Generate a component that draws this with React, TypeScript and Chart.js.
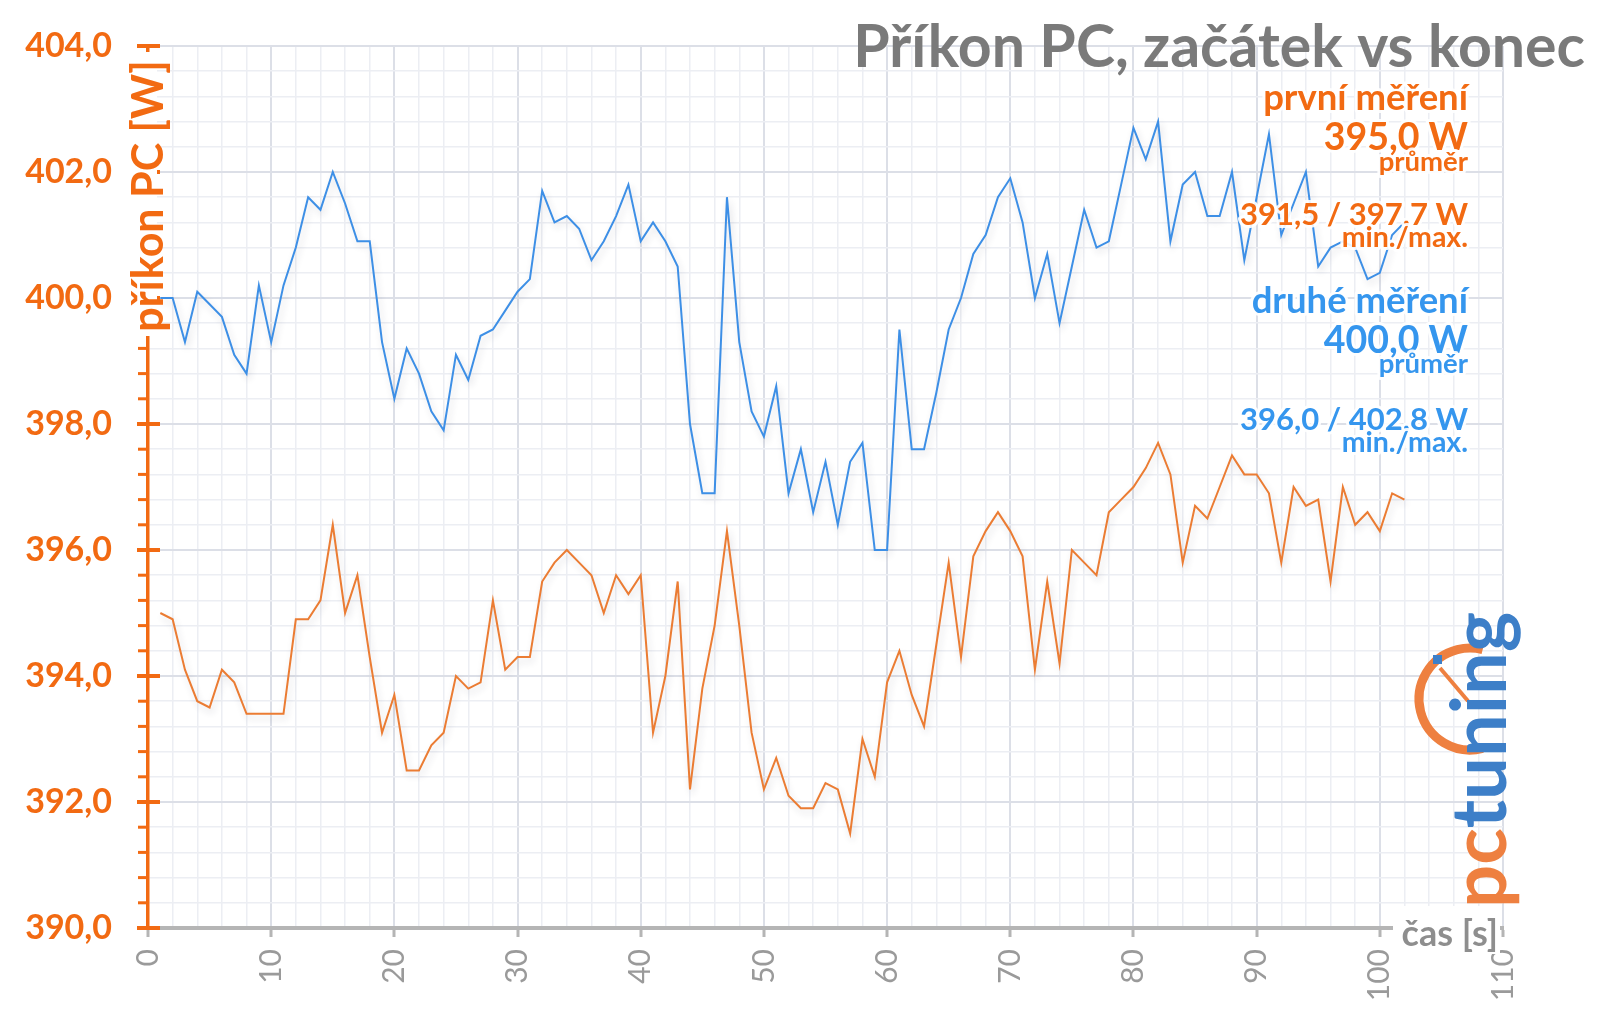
import React, { useEffect, useRef } from 'react';
import { Chart, registerables } from 'chart.js';

Chart.register(...registerables);

// time axis (seconds) for each sample
const timeSeconds: number[] = Array.from({ length: 102 }, (_, i) => i + 1);

// první měření (orange)
const firstRunW: number[] = [
  395.0, 394.9, 394.1, 393.6, 393.5, 394.1, 393.9, 393.4, 393.4, 393.4,
  393.4, 394.9, 394.9, 395.2, 396.4, 395.0, 395.6, 394.3, 393.1, 393.7,
  392.5, 392.5, 392.9, 393.1, 394.0, 393.8, 393.9, 395.2, 394.1, 394.3,
  394.3, 395.5, 395.8, 396.0, 395.8, 395.6, 395.0, 395.6, 395.3, 395.6,
  393.1, 394.0, 395.5, 392.2, 393.8, 394.8, 396.3, 394.8, 393.1, 392.2,
  392.7, 392.1, 391.9, 391.9, 392.3, 392.2, 391.5, 393.0, 392.4, 393.9,
  394.4, 393.7, 393.2, 394.5, 395.8, 394.3, 395.9, 396.3, 396.6, 396.3,
  395.9, 394.1, 395.5, 394.2, 396.0, 395.8, 395.6, 396.6, 396.8, 397.0,
  397.3, 397.7, 397.2, 395.8, 396.7, 396.5, 397.0, 397.5, 397.2, 397.2,
  396.9, 395.8, 397.0, 396.7, 396.8, 395.5, 397.0, 396.4, 396.6, 396.3,
  396.9, 396.8,
];

// druhé měření (blue)
const secondRunW: number[] = [
  400.0, 400.0, 399.3, 400.1, 399.9, 399.7, 399.1, 398.8, 400.2, 399.3,
  400.2, 400.8, 401.6, 401.4, 402.0, 401.5, 400.9, 400.9, 399.3, 398.4,
  399.2, 398.8, 398.2, 397.9, 399.1, 398.7, 399.4, 399.5, 399.8, 400.1,
  400.3, 401.7, 401.2, 401.3, 401.1, 400.6, 400.9, 401.3, 401.8, 400.9,
  401.2, 400.9, 400.5, 398.0, 396.9, 396.9, 401.6, 399.3, 398.2, 397.8,
  398.6, 396.9, 397.6, 396.6, 397.4, 396.4, 397.4, 397.7, 396.0, 396.0,
  399.5, 397.6, 397.6, 398.5, 399.5, 400.0, 400.7, 401.0, 401.6, 401.9,
  401.2, 400.0, 400.7, 399.6, 400.5, 401.4, 400.8, 400.9, 401.8, 402.7,
  402.2, 402.8, 400.9, 401.8, 402.0, 401.3, 401.3, 402.0, 400.6, 401.6,
  402.6, 401.0, 401.5, 402.0, 400.5, 400.8, 400.9, 400.8, 400.3, 400.4,
  401.0, 401.2,
];

const chartTitle = 'Příkon PC, začátek vs konec';
const yAxisTitle = 'příkon PC [W]';
const xAxisTitle = 'čas [s]';
const firstSummary = ['první měření', '395,0 W', 'průměr', '391,5 / 397,7 W', 'min./max.'];
const secondSummary = ['druhé měření', '400,0 W', 'průměr', '396,0 / 402,8 W', 'min./max.'];
const logoParts = ['pc', 'tuning'];

const ORANGE_TEXT = '#F26A12';
const BLUE_TEXT = '#3596EE';
const ORANGE_LINE = '#EB7C33';
const BLUE_LINE = '#3D8FE6';
const GREY_TEXT = '#7a7a7a';
const FONT = 'Lato, "Open Sans", sans-serif';

const isMult = (v: number, m: number) => Math.abs(v / m - Math.round(v / m)) < 1e-6;

function drawText(ctx: CanvasRenderingContext2D, s: string, x: number, y: number, font: string, color: string, align: CanvasTextAlign = 'right', glow = true) {
  ctx.save();
  ctx.font = font;
  ctx.textAlign = align;
  ctx.textBaseline = 'alphabetic';
  if (glow) {
    ctx.lineJoin = 'round';
    ctx.strokeStyle = 'rgba(255,255,255,0.9)';
    ctx.lineWidth = 6;
    ctx.strokeText(s, x, y);
  }
  ctx.fillStyle = color;
  ctx.fillText(s, x, y);
  ctx.restore();
}

const decorPlugin = {
  id: 'decor',
  beforeDatasetsDraw(chart: any) {
    const ctx = chart.ctx;
    ctx.save();
    ctx.shadowColor = 'rgba(40,40,60,0.16)';
    ctx.shadowBlur = 7;
    ctx.shadowOffsetX = 2;
    ctx.shadowOffsetY = 4;
  },
  afterDatasetsDraw(chart: any) {
    chart.ctx.restore();
  },
  afterDraw(chart: any) {
    const ctx: CanvasRenderingContext2D = chart.ctx;
    const ys = chart.scales.y;
    const axisX = ys.right;

    // y-axis tick marks
    ctx.save();
    ctx.fillStyle = ORANGE_TEXT;
    for (const t of ys.ticks) {
      const py = ys.getPixelForValue(t.value);
      if (isMult(t.value, 2)) ctx.fillRect(axisX - 11, py - 2, 23, 4);
      else ctx.fillRect(axisX - 10, py - 1.5, 10, 3);
    }
    ctx.restore();

    // y-axis title on a white box over the axis line
    ctx.save();
    ctx.fillStyle = '#ffffff';
    ctx.fillRect(axisX - 30, 52, 39, 284);
    ctx.translate(axisX + 15, 196);
    ctx.rotate(-Math.PI / 2);
    drawText(ctx, yAxisTitle, 0, 0, `bold 43px ${FONT}`, ORANGE_TEXT, 'center', false);
    ctx.restore();

    // x-axis title
    ctx.save();
    ctx.fillStyle = '#ffffff';
    ctx.fillRect(1393, 906, 107, 48);
    ctx.restore();
    drawText(ctx, xAxisTitle, 1498, 946, `bold 36px ${FONT}`, '#8e8e8e', 'right', false);

    // chart title
    drawText(ctx, chartTitle, 1585, 67, `bold 59px ${FONT}`, GREY_TEXT, 'right', false);

    // summaries
    const rx = 1468;
    drawText(ctx, firstSummary[0], rx, 110, `bold 36.5px ${FONT}`, ORANGE_TEXT);
    drawText(ctx, firstSummary[1], rx, 150, `bold 37.5px ${FONT}`, ORANGE_TEXT);
    drawText(ctx, firstSummary[2], rx, 171, `bold 27.5px ${FONT}`, ORANGE_TEXT);
    drawText(ctx, firstSummary[3], rx, 225, `bold 31px ${FONT}`, ORANGE_TEXT);
    drawText(ctx, firstSummary[4], rx, 247, `bold 28.5px ${FONT}`, ORANGE_TEXT);
    drawText(ctx, secondSummary[0], rx, 313, `bold 36.5px ${FONT}`, BLUE_TEXT);
    drawText(ctx, secondSummary[1], rx, 353, `bold 37.5px ${FONT}`, BLUE_TEXT);
    drawText(ctx, secondSummary[2], rx, 373, `bold 27.5px ${FONT}`, BLUE_TEXT);
    drawText(ctx, secondSummary[3], rx, 430, `bold 31px ${FONT}`, BLUE_TEXT);
    drawText(ctx, secondSummary[4], rx, 452, `bold 28.5px ${FONT}`, BLUE_TEXT);

    // logo: gauge ring + rotated word
    ctx.save();
    ctx.strokeStyle = '#EE8040';
    ctx.lineWidth = 9;
    ctx.beginPath();
    ctx.arc(1470, 699, 51, 0.42 * Math.PI, 1.58 * Math.PI);
    ctx.stroke();
    ctx.lineWidth = 4;
    ctx.beginPath();
    ctx.moveTo(1440, 668);
    ctx.lineTo(1468, 701);
    ctx.stroke();
    ctx.fillStyle = '#3D7FC8';
    ctx.fillRect(1433, 655, 9, 9);
    ctx.restore();

    ctx.save();
    ctx.translate(1506, 908);
    ctx.rotate(-Math.PI / 2);
    ctx.font = `bold 76px ${FONT}`;
    ctx.textAlign = 'left';
    ctx.textBaseline = 'alphabetic';
    ctx.fillStyle = '#EE8040';
    ctx.fillText(logoParts[0], 0, 0);
    const w0 = ctx.measureText(logoParts[0]).width;
    ctx.fillStyle = '#3D7FC8';
    ctx.fillText(logoParts[1], w0, 0);
    ctx.restore();
  },
};

export default function App() {
  const canvasRef = useRef<HTMLCanvasElement | null>(null);

  useEffect(() => {
    document.body.style.margin = '0';
    const canvas = canvasRef.current;
    if (!canvas) return;
    const chart = new Chart(canvas, {
      type: 'line',
      data: {
        datasets: [
          {
            label: 'první měření',
            data: timeSeconds.map((t, i) => ({ x: t, y: firstRunW[i] })),
            borderColor: ORANGE_LINE,
            borderWidth: 2,
            pointRadius: 0,
            tension: 0,
            fill: false,
          },
          {
            label: 'druhé měření',
            data: timeSeconds.map((t, i) => ({ x: t, y: secondRunW[i] })),
            borderColor: BLUE_LINE,
            borderWidth: 2,
            pointRadius: 0,
            tension: 0,
            fill: false,
          },
        ],
      },
      options: {
        responsive: false,
        animation: false,
        devicePixelRatio: 1,
        layout: { padding: { top: 46, right: 97, left: 0, bottom: 0 } },
        plugins: {
          legend: { display: false },
          title: { display: false },
          tooltip: { enabled: false },
        },
        scales: {
          x: {
            type: 'linear',
            min: 0,
            max: 110,
            afterFit: (s: any) => { s.height = 83; },
            ticks: {
              stepSize: 2,
              maxTicksLimit: 200,
              autoSkip: false,
              minRotation: 90,
              maxRotation: 90,
              padding: 12,
              color: '#9a9a9a',
              font: { family: FONT, size: 30 },
              callback: (v: any) => (isMult(Number(v), 10) ? String(Math.round(Number(v))) : ''),
            },
            grid: {
              color: (c: any) => (isMult(c.tick.value, 10) ? '#dcdfe7' : '#eceef3'),
              lineWidth: (c: any) => (isMult(c.tick.value, 10) ? 2 : 1.5),
              drawTicks: true,
              tickLength: 9,
              tickWidth: 3,
              tickColor: (c: any) => (isMult(c.tick.value, 10) ? '#b5b5b5' : 'rgba(0,0,0,0)'),
            },
            border: { display: true, color: '#b5b5b5', width: 4 },
          },
          y: {
            type: 'linear',
            min: 390,
            max: 404,
            afterFit: (s: any) => { s.width = 148; },
            ticks: {
              stepSize: 0.4,
              maxTicksLimit: 200,
              autoSkip: false,
              padding: 0,
              color: ORANGE_TEXT,
              font: { family: FONT, size: 34, weight: 'bold' },
              callback: (v: any) => (isMult(Number(v), 2) ? Number(v).toFixed(1).replace('.', ',') : ''),
            },
            grid: {
              color: (c: any) => (isMult(c.tick.value, 2) ? '#dcdfe7' : '#eceef3'),
              lineWidth: (c: any) => (isMult(c.tick.value, 2) ? 2 : 1.5),
              drawTicks: true,
              tickLength: 36,
              tickColor: 'rgba(0,0,0,0)',
            },
            border: { display: true, color: ORANGE_TEXT, width: 3.5 },
          },
        },
      },
      plugins: [decorPlugin],
    } as any);
    return () => chart.destroy();
  }, []);

  return (
    <div style={{ position: 'fixed', left: 0, top: 0, width: 1600, height: 1011, background: '#ffffff' }}>
      <canvas ref={canvasRef} width={1600} height={1011} style={{ display: 'block' }} />
    </div>
  );
}
